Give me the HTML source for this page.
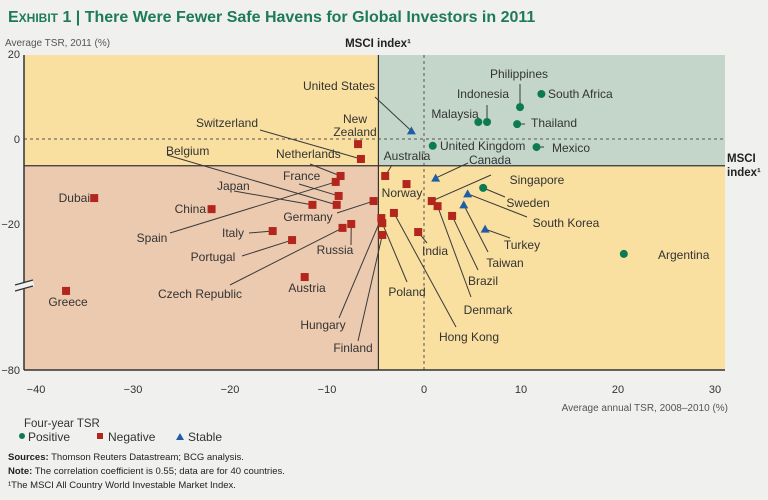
<!DOCTYPE html>
<html><head><meta charset="utf-8"><style>
body{margin:0;background:#f0f0ee;font-family:"Liberation Sans",sans-serif;}
#wrap{position:relative;width:768px;height:500px;overflow:hidden;background:#f0f0ee;}
svg{position:absolute;left:0;top:0;}
</style></head><body>
<div id="wrap">
<svg id="chart" width="768" height="500"></svg>
</div>
<script>
const countries=["United States","New Zealand","Switzerland","Netherlands","Belgium","France","Japan","Spain","Germany","Dubai","China","Italy","Portugal","Czech Republic","Russia","Austria","Greece","Hungary","Finland","Poland","Hong Kong","Norway","Australia","India","Denmark","Singapore","Brazil","Taiwan","Sweden","South Korea","Turkey","Canada","Argentina","United Kingdom","Mexico","Thailand","Philippines","South Africa","Indonesia","Malaysia"];
const tsr0810=[-1.3,-6.8,-6.5,-8.6,-9.0,-8.8,-11.5,-9.1,-5.2,-34.0,-21.9,-15.6,-13.6,-8.4,-7.5,-12.3,-36.9,-4.4,-4.3,-4.3,-3.1,-1.8,-4.0,-0.6,1.4,0.8,2.9,4.1,6.1,4.5,6.3,1.2,20.6,0.9,11.6,9.6,9.9,12.1,6.5,5.6];
const tsr2011=[1.9,-1.2,-4.7,-8.7,-15.5,-13.4,-15.5,-10.1,-14.6,-13.9,-16.5,-22.9,-26.6,-21.6,-20.0,-41.8,-47.5,-18.6,-24.5,-19.8,-17.4,-10.6,-8.7,-23.3,-15.8,-14.6,-18.1,-15.5,-11.5,-12.9,-22.1,-9.2,-32.3,-1.6,-1.9,3.5,7.5,10.6,4.0,4.0];
const trend=["S","N","N","N","N","N","N","N","N","N","N","N","N","N","N","N","N","N","N","N","N","N","N","N","N","N","N","S","P","S","S","S","P","P","P","P","P","P","P","P"];
const xTicks=[-40,-30,-20,-10,0,10,20,30];
const yTicks=[20,0,-20,-80];
const msciX=-4.7, msciY=-6.3;
// label layout (pixels): [x, y, anchor, leaderStartX, leaderStartY]
const labelLayout=[[375,90,"end",375,97],[355,123,"middle",null,null],[258,127,"end",260,130],[276,158,"start",310,164],[166,155,"start",167,155],[283,180,"start",299,184],[217,190,"start",234,191],[152,242,"middle",170,233],[308,221,"middle",337,213],[90,202,"end",null,null],[206,213,"end",null,null],[233,237,"middle",249,233],[213,261,"middle",242,256],[200,298,"middle",230,285],[335,254,"middle",351,245],[307,292,"middle",null,null],[68,306,"middle",null,null],[323,329,"middle",339,318],[353,352,"middle",358,341],[407,296,"middle",407,282],[469,341,"middle",456,327],[402,197,"middle",null,null],[407,160,"middle",392,165],[435,255,"middle",427,243],[488,314,"middle",471,297],[537,184,"middle",491,175],[483,285,"middle",478,270],[505,267,"middle",488,252],[528,207,"middle",505,197],[566,227,"middle",527,217],[522,249,"middle",510,238],[490,164,"middle",468,163],[658,259,"start",null,null],[440,150,"start",null,null],[552,152,"start",544,147],[531,127,"start",525,124],[519,78,"middle",520,84],[548,98,"start",544,94],[483,98,"middle",487,105],[455,118,"middle",null,null]];
const NS="http://www.w3.org/2000/svg";
const svg=document.getElementById("chart");
function X(v){return 424+9.7*v;}
function Y(v){return v>=-20?139-4.25*v:224+(-20-v)*2.433;}
function el(t,a,p){const e=document.createElementNS(NS,t);for(const k in a)e.setAttribute(k,a[k]);(p||svg).appendChild(e);return e;}
function txt(s,x,y,a,p){const e=el("text",Object.assign({x:x,y:y},a),p);e.textContent=s;return e;}
const L=24,R=725,T=55,B=370;
const mx=X(msciX),my=Y(msciY);
let q=el("rect",{x:L,y:T,width:mx-L,height:my-T,fill:"#f9dfa0"});

q=el("rect",{x:mx,y:T,width:R-mx,height:my-T,fill:"#c4d6c9"});

q=el("rect",{x:L,y:my,width:mx-L,height:B-my,fill:"#eccab0"});

q=el("rect",{x:mx,y:my,width:R-mx,height:B-my,fill:"#f9dfa0"});

let ln=el("line",{x1:L,x2:R,y1:Y(0),y2:Y(0),stroke:"#555","stroke-dasharray":"3,3","stroke-width":1});

ln=el("line",{x1:X(0),x2:X(0),y1:T,y2:B,stroke:"#555","stroke-dasharray":"3,3","stroke-width":1});

ln=el("line",{x1:L,x2:R,y1:my,y2:my,stroke:"#333","stroke-width":1.2});

ln=el("line",{x1:mx,x2:mx,y1:T,y2:B,stroke:"#333","stroke-width":1.2});

ln=el("line",{x1:L,x2:L,y1:T,y2:B,stroke:"#333","stroke-width":1.5});

ln=el("line",{x1:L,x2:R,y1:B,y2:B,stroke:"#333","stroke-width":1.5});

let br=el("rect",{x:14,y:283,width:20,height:6,fill:"#f0f0ee",transform:"rotate(-15 24 286)"});

el("line",{x1:15,y1:285,x2:33,y2:280,stroke:"#333","stroke-width":1.2});
el("line",{x1:15,y1:291,x2:33,y2:286,stroke:"#333","stroke-width":1.2});
const tf={"font-size":11,fill:"#333","font-family":"Liberation Sans, sans-serif"};
for(const t of xTicks){const e=txt(t<0?"\u2212"+(-t):String(t),X(t),393,Object.assign({"text-anchor":"middle"},tf));
}
for(const t of yTicks){const e=txt(t<0?"\u2212"+(-t):String(t),20,Y(t)+4,Object.assign({"text-anchor":"end"},tf));
}
const colors={P:"#0c7a52",N:"#b3261e",S:"#1f5ea6"};
for(let i=0;i<countries.length;i++){
 const px=X(tsr0810[i]),py=Y(tsr2011[i]);const lay=labelLayout[i];
 if(lay[3]!==null){const l=el("line",{x1:lay[3],y1:lay[4],x2:px,y2:py,stroke:"#3a3a3a","stroke-width":1});
 }
}
for(let i=0;i<countries.length;i++){
 const px=X(tsr0810[i]),py=Y(tsr2011[i]);const c=colors[trend[i]];let m;
 if(trend[i]==="N")m=el("rect",{x:px-4,y:py-4,width:8,height:8,fill:c});
 else if(trend[i]==="P")m=el("circle",{cx:px,cy:py,r:4,fill:c});
 else m=el("polygon",{points:(px-4.5)+","+(py+3.5)+" "+(px+4.5)+","+(py+3.5)+" "+px+","+(py-4.5),fill:c});
 
 
 const lay=labelLayout[i];
 let t;
 if(countries[i]==="New Zealand"){t=txt("",lay[0],lay[1],{"text-anchor":"middle","font-size":12,fill:"#333"});
  const a=el("tspan",{x:lay[0],dy:0},t);a.textContent="New";const b=el("tspan",{x:lay[0],dy:13},t);b.textContent="Zealand";}
 else t=txt(countries[i],lay[0],lay[1],{"text-anchor":lay[2],"font-size":12,fill:"#333"});
 
 
}
let e=txt("",8,22,{"font-size":16,"font-weight":"bold",fill:"#1d7a5a"});

let s=el("tspan",{},e);s.textContent="E";s=el("tspan",{"font-size":12},e);s.textContent="XHIBIT";s=el("tspan",{},e);s.textContent=" 1 | There Were Fewer Safe Havens for Global Investors in 2011";
e=txt("Average TSR, 2011 (%)",5,46,{"font-size":10,fill:"#555"});

e=txt("MSCI index¹",378,47,{"font-size":11.5,"font-weight":"bold",fill:"#222","text-anchor":"middle"});

e=txt("MSCI",727,162,{"font-size":11.5,"font-weight":"bold",fill:"#222"});

txt("index¹",727,176,{"font-size":11.5,"font-weight":"bold",fill:"#222"});
e=txt("Average annual TSR, 2008–2010 (%)",728,411,{"font-size":10,fill:"#555","text-anchor":"end"});

e=txt("Four-year TSR",24,427,{"font-size":11.5,fill:"#333"});

let g=el("circle",{cx:22,cy:436,r:3,fill:colors.P});
e=txt("Positive",28,441,{"font-size":12,fill:"#333"});
g=el("rect",{x:97,y:433,width:6,height:6,fill:colors.N});
e=txt("Negative",108,441,{"font-size":12,fill:"#333"});
g=el("polygon",{points:"176,440 184,440 180,433",fill:colors.S});
e=txt("Stable",188,441,{"font-size":12,fill:"#333"});
e=txt("",8,460,{"font-size":9.5,fill:"#222"});
s=el("tspan",{"font-weight":"bold"},e);s.textContent="Sources:";s=el("tspan",{},e);s.textContent=" Thomson Reuters Datastream; BCG analysis.";
e=txt("",8,474,{"font-size":9.5,fill:"#222"});
s=el("tspan",{"font-weight":"bold"},e);s.textContent="Note:";s=el("tspan",{},e);s.textContent=" The correlation coefficient is 0.55; data are for 40 countries.";
e=txt("¹The MSCI All Country World Investable Market Index.",8,488,{"font-size":9.5,fill:"#222"});

</script>
</body></html>
